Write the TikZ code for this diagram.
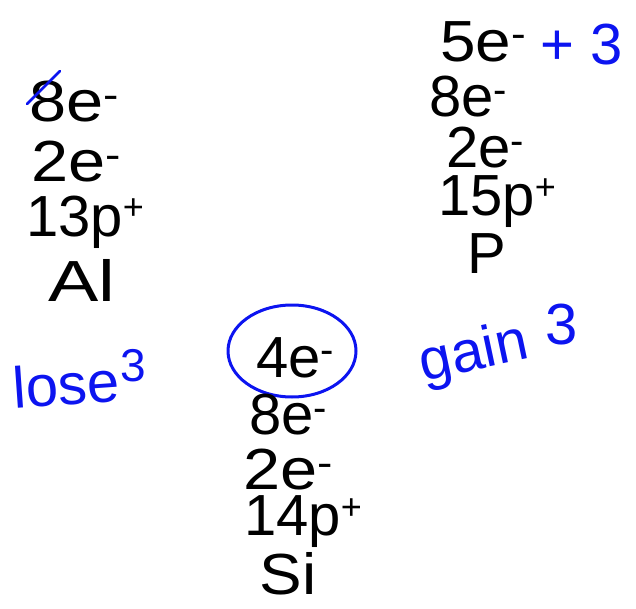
\documentclass[tikz,border=0pt]{standalone}
\usepackage{fontspec}
\setmainfont{Liberation Sans}
\definecolor{inkblue}{RGB}{12,20,240}
\newcommand{\eminus}{e\raisebox{0.45ex}{\fontsize{40}{40}\selectfont -}}
\newcommand{\pplus}{p\raisebox{0.55ex}{\fontsize{36}{36}\selectfont +}}
\begin{document}
\begin{tikzpicture}[x=1pt,y=-1pt,
  hw/.style={inner sep=0pt,font=\fontsize{58}{58}\selectfont},
  hwblue/.style={inner sep=0pt,text=inkblue,font=\fontsize{58}{58}\selectfont}]
\useasboundingbox (0,0) rectangle (636,609);
% left column (Al)
\node[hw,xscale=1.15] (al8) at (74,102) {8\eminus};
\node[hw,xscale=1.15] (al2) at (76,162) {2\eminus};
\node[hw] (al13) at (85,222) {13\pplus};
\node[hw,xscale=1.3] (alname) at (82,280) {Al};
\draw[inkblue,line width=2.5pt,line cap=round] (27,104) -- (60,71);
% right column (P)
\node[hw,xscale=1.1] (p5) at (483,42) {5\eminus};
\node[hwblue] (plus3) at (582,45) {+ 3};
\node[hw] (p8) at (468,97) {8\eminus};
\node[hw] (p2) at (485,148) {2\eminus};
\node[hw] (p15) at (497,202) {15\pplus};
\node[hw] (pname) at (487,254) {P};
% middle column (Si)
\node[hw] (si4) at (295,358) {4\eminus};
\draw[inkblue,line width=3pt] (292,351) ellipse [x radius=64, y radius=46];
\node[hw] (si8) at (288,415) {8\eminus};
\node[hw,xscale=1.15] (si2) at (288,470) {2\eminus};
\node[hw] (si14) at (303,522) {14\pplus};
\node[hw,xscale=1.1] (siname) at (288,574) {Si};
% blue notes
\node[hwblue,rotate=4] (lose) at (66,384) {lose};
\node[hwblue,font=\fontsize{46}{46}\selectfont] (lose3) at (133,366) {3};
\node[hwblue,rotate=12] (gain) at (474,355) {gain};
\node[hwblue] (gain3) at (562,325) {3};
\end{tikzpicture}
\end{document}
